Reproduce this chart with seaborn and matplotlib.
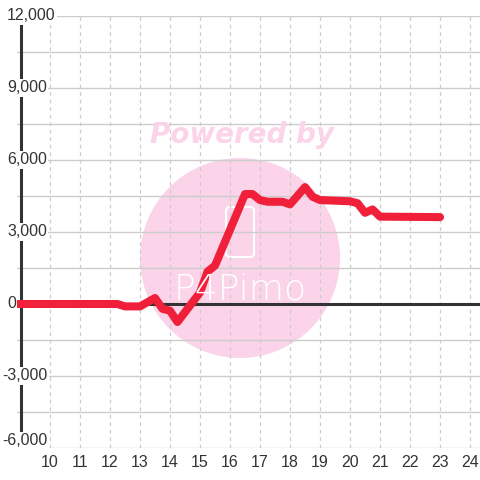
import numpy as np
import pandas as pd
import matplotlib
matplotlib.use("Agg")
import matplotlib.pyplot as plt
import matplotlib.transforms as mtransforms
import seaborn as sns
from matplotlib.patches import Circle, FancyBboxPatch

# Datos
horas = [8.9, 10.0, 11.0, 12.0, 12.25, 12.5, 13.0, 13.5, 13.75, 14.0, 14.25,
         15.0, 15.25, 15.5, 16.5, 16.75, 17.0, 17.25, 17.75, 18.0, 18.5,
         18.75, 19.0, 20.0, 20.25, 20.5, 20.75, 21.0, 23.0]
valores = [0, 0, 0, 0, 0, -100, -100, 250, -200, -280, -750,
           480, 1350, 1600, 4580, 4580, 4330, 4260, 4260, 4150, 4870,
           4470, 4330, 4280, 4200, 3800, 3940, 3640, 3620]
xticks = list(range(10, 25))
yticks_major = [12000, 9000, 6000, 3000, 0, -3000, -6000]
ylabels = ["12,000", "9,000", "6,000", "3,000", "0", "-3,000", "-6,000"]

df = pd.DataFrame({"hora": horas, "valor": valores})

sns.set_style("white")
plt.rcParams["font.family"] = ["Liberation Sans", "DejaVu Sans"]

fig = plt.figure(figsize=(4.8, 4.8), dpi=100)
ax = fig.add_axes([17 / 480, 32 / 480, 463 / 480, 432 / 480])
ax.set_xlim(8.9, 24.333)
ax.set_ylim(-6000, 12000)

# marca de agua
pink = "#fbd4e9"
ax.add_patch(Circle((240 / 480, 1 - 258 / 480), 100 / 480, transform=fig.transFigure,
                    facecolor=pink, edgecolor="none", zorder=0))
ax.add_patch(FancyBboxPatch((226 / 480, 1 - 257 / 480), 28 / 480, 50 / 480,
                            boxstyle="round,pad=0,rounding_size=0.008",
                            transform=fig.transFigure, facecolor="none",
                            edgecolor="white", lw=1.5, zorder=0.5))
fig.text(242 / 480, 1 - 135 / 480, "Powered by", color=pink, fontsize=20,
         fontweight="bold", fontstyle="italic", ha="center", va="center", zorder=0.5,
         family=["DejaVu Sans"])
fig.text(240 / 480, 1 - 289 / 480, "P4Pimo", color="white", fontsize=26,
         ha="center", va="center", zorder=0.5, family=["DejaVu Sans"],
         fontweight="light")
ax.patch.set_alpha(0)
fig.patch.set_facecolor("white")

# rejilla
for y in np.arange(-6000, 12001, 1500):
    ax.axhline(y, color="#cccccc", lw=1, zorder=1)
for x in xticks:
    ax.axvline(x, color="#cccccc", lw=0.9, ls=(0, (3, 3)), zorder=1)

ax.axhline(0, color="#333333", lw=2.2, zorder=2)
ax.axvline(9.03, ymin=0, ymax=1, color="#333333", lw=2.2, zorder=2)

sns.lineplot(data=df, x="hora", y="valor", color="#f0203a", lw=5.8, ax=ax, zorder=3)

# etiquetas del eje y dentro del area
trans = mtransforms.blended_transform_factory(fig.transFigure, ax.transData)
for v, lab in zip(yticks_major, ylabels):
    yy = v if v > -6000 else v + 300
    xx = 7 / 480 if not lab.startswith("-") else 2 / 480
    ax.text(xx, yy, lab, ha="left", va="center", transform=trans,
            fontsize=11.5, color="#333333", zorder=2.5,
            bbox=dict(facecolor="white", edgecolor="none", pad=1))

ax.set_xticks(xticks)
ax.set_xticklabels([str(x) for x in xticks], fontsize=11.5, color="#333333")
ax.set_yticks([])
ax.tick_params(axis="x", length=0, pad=5)
ax.set_xlabel("")
ax.set_ylabel("")
for s in ax.spines.values():
    s.set_visible(False)

fig.savefig("out.png", dpi=100)
